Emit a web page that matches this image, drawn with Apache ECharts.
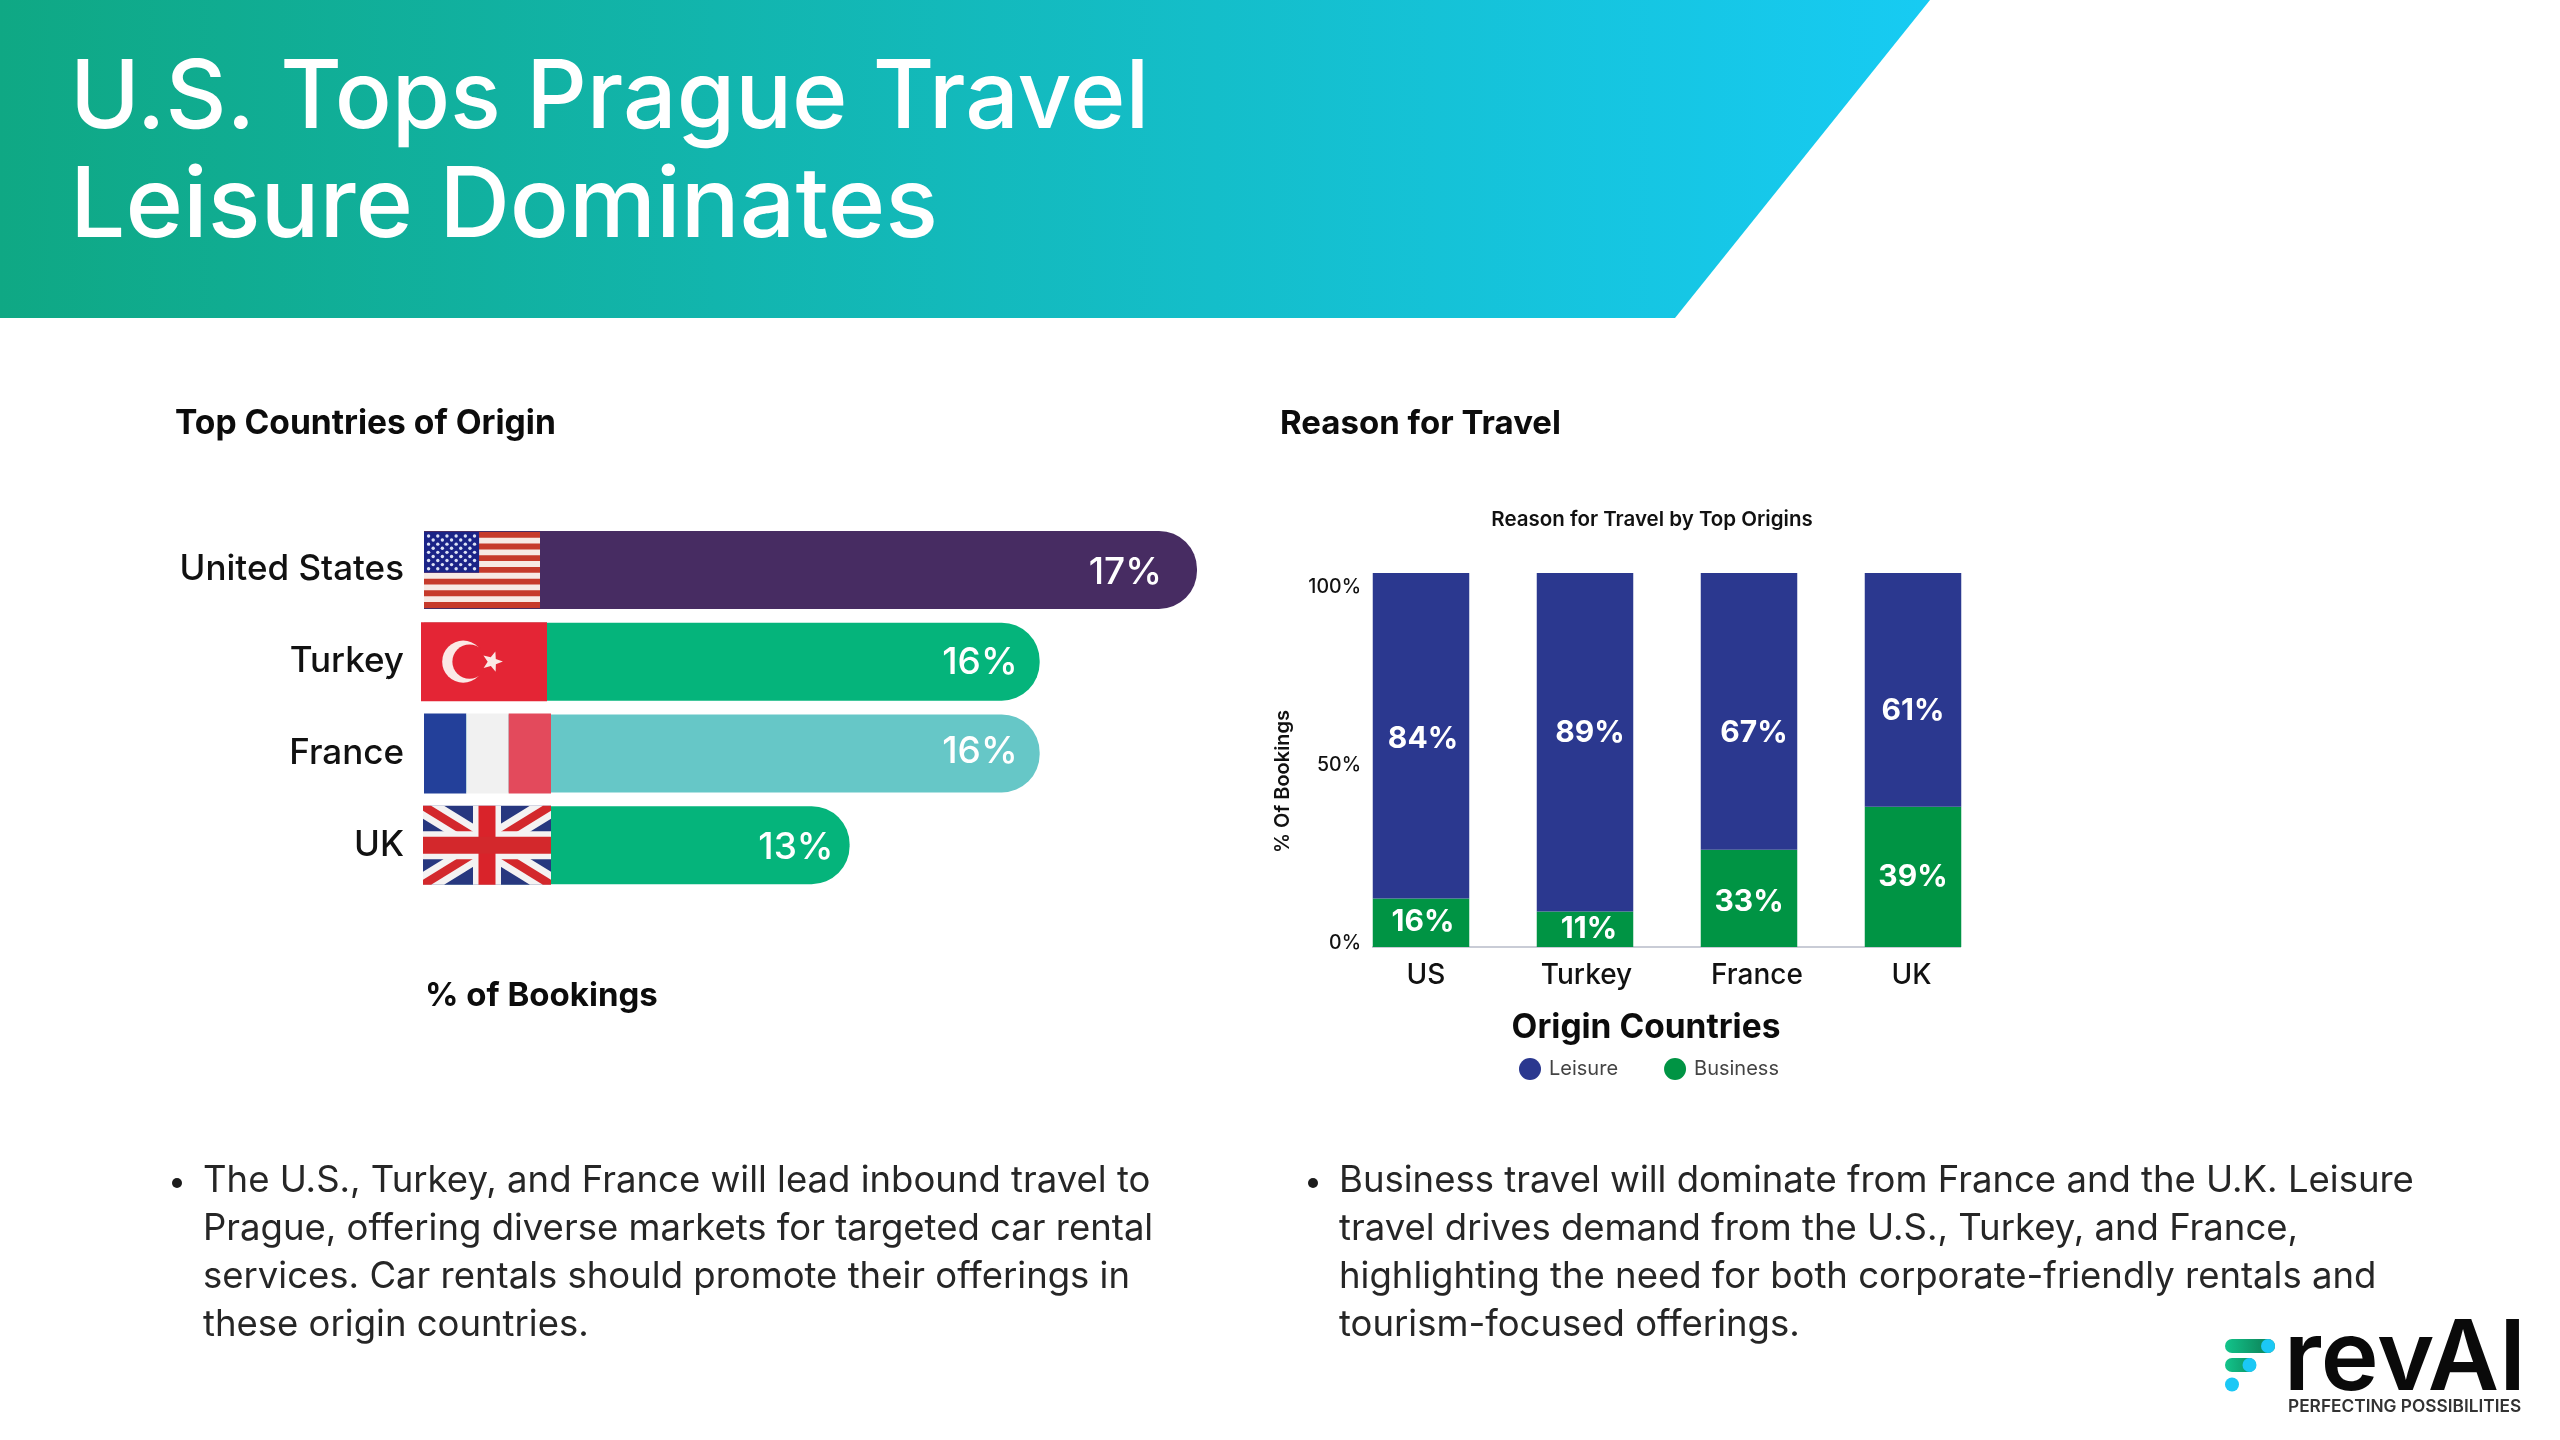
<!DOCTYPE html>
<html>
<head>
<meta charset="utf-8">
<title>U.S. Tops Prague Travel</title>
<script src="https://cdn.jsdelivr.net/npm/echarts@6/dist/echarts.min.js"></script>
<style>
  html, body { margin: 0; padding: 0; background: #fff; }
  #chart { width: 2560px; height: 1440px; }
</style>
</head>
<body>
<div id="chart"></div>
<script>
const originCountries = ["United States", "Turkey", "France", "UK"];
const bookingShareLabels = ["17%", "16%", "16%", "13%"];
// the source bars are not drawn to scale with their printed numbers, so the drawn reach is read separately
const bookingBarReach = [17, 13.54, 13.54, 9.36];
const bookingBarColors = ["#472C62", "#05B47B", "#66C7C7", "#05B47B"];

const reasonCategories = ["US", "Turkey", "France", "UK"];
// same thing for the stacks: drawn height vs printed number
const leisureDrawn = [87, 90.5, 74, 62.5];
const businessDrawn = [13, 9.5, 26, 37.5];
const leisureLabels = ["84%", "89%", "67%", "61%"];
const businessLabels = ["16%", "11%", "33%", "39%"];
const reasonTicks = [0, 50, 100];

const titleLines = ["U.S. Tops Prague Travel", "Leisure Dominates"];
const leftBullet = [
    "The U.S., Turkey, and France will lead inbound travel to",
    "Prague, offering diverse markets for targeted car rental",
    "services. Car rentals should promote their offerings in",
    "these origin countries."
];
const rightBullet = [
    "Business travel will dominate from France and the U.K. Leisure",
    "travel drives demand from the U.S., Turkey, and France,",
    "highlighting the need for both corporate-friendly rentals and",
    "tourism-focused offerings."
];

const FONT = "Inter, 'Noto Sans', sans-serif";
const NAVY = "#2B388F";
const GREEN = "#009444";

function textEl(text, x, y, size, weight, color, extra) {
    return Object.assign({
        type: "text",
        style: { text, x, y, fill: color, font: `${weight} ${size}px ${FONT}`, textVerticalAlign: "middle" }
    }, extra || {});
}

function starPoints(cx, cy, r, rot) {
    const pts = [];
    for (let i = 0; i < 10; i++) {
        const rad = i % 2 ? r * 0.42 : r;
        const a = rot + i * Math.PI / 5;
        pts.push([cx + rad * Math.cos(a), cy + rad * Math.sin(a)]);
    }
    return pts;
}

function usFlag(w, h) {
    const kids = [{ type: "rect", shape: { x: 0, y: 0, width: w, height: h }, style: { fill: "#F7E9E4" } }];
    const sh = h / 13;
    for (let i = 0; i < 13; i += 2) {
        kids.push({ type: "rect", shape: { x: 0, y: i * sh, width: w, height: sh }, style: { fill: "#C63A2B" } });
    }
    const cw = w * 0.475, ch = sh * 7;
    kids.push({ type: "rect", shape: { x: 0, y: 0, width: cw, height: ch }, style: { fill: "#1B2487" } });
    for (let r = 0; r < 9; r++) {
        const n = r % 2 ? 5 : 6;
        for (let c = 0; c < n; c++) {
            const sx = (c + (r % 2 ? 1 : 0.5)) * cw / 6;
            const sy = (r + 1) * ch / 10;
            kids.push({ type: "circle", shape: { cx: sx, cy: sy, r: 1.7 }, style: { fill: "#DDE3F5" } });
        }
    }
    return kids;
}

function turkeyFlag(w, h) {
    const cx = w * 0.335, cy = h * 0.5;
    return [
        { type: "rect", shape: { x: 0, y: 0, width: w, height: h }, style: { fill: "#E42535" } },
        { type: "circle", shape: { cx, cy, r: w * 0.167 }, style: { fill: "#FBE9E6" } },
        { type: "circle", shape: { cx: cx + w * 0.05, cy, r: w * 0.136 }, style: { fill: "#E42535" } },
        { type: "polygon", shape: { points: starPoints(w * 0.565, cy, w * 0.085, -Math.PI / 2 + 0.3) }, style: { fill: "#FBE9E6" } }
    ];
}

function franceFlag(w, h) {
    return [
        { type: "rect", shape: { x: 0, y: 0, width: w / 3, height: h }, style: { fill: "#23409A" } },
        { type: "rect", shape: { x: w / 3, y: 0, width: w / 3, height: h }, style: { fill: "#F1F1F1" } },
        { type: "rect", shape: { x: 2 * w / 3, y: 0, width: w / 3, height: h }, style: { fill: "#E34A5C" } }
    ];
}

function diagonalBand(w, h, t, fill, mirror) {
    const tx = t * w / h;
    let pts = [[0, 0], [tx, 0], [w, h - t], [w, h], [w - tx, h], [0, t]];
    if (mirror) pts = pts.map(p => [w - p[0], p[1]]);
    return { type: "polygon", shape: { points: pts }, style: { fill } };
}

function ukFlag(w, h) {
    return [
        { type: "rect", shape: { x: 0, y: 0, width: w, height: h }, style: { fill: "#27377F" } },
        diagonalBand(w, h, 13, "#F4F2F2", false),
        diagonalBand(w, h, 13, "#F4F2F2", true),
        diagonalBand(w, h, 5, "#D3282C", false),
        diagonalBand(w, h, 5, "#D3282C", true),
        { type: "rect", shape: { x: w / 2 - 14, y: 0, width: 28, height: h }, style: { fill: "#F4F2F2" } },
        { type: "rect", shape: { x: 0, y: h / 2 - 14, width: w, height: 28 }, style: { fill: "#F4F2F2" } },
        { type: "rect", shape: { x: w / 2 - 8.5, y: 0, width: 17, height: h }, style: { fill: "#D9232A" } },
        { type: "rect", shape: { x: 0, y: h / 2 - 8.5, width: w, height: 17 }, style: { fill: "#D3282C" } }
    ];
}

const flagPainters = [usFlag, turkeyFlag, franceFlag, ukFlag];
const flagWidths = [116, 126, 127, 128];
const flagHeights = [76, 79, 80, 79];
const flagShifts = [0, -3, 0, -1];
const leftLabelInset = [35, 22, 22, 16];
const leftLabelNudge = [[0, 3], [0, 1], [0, -2], [0, 3]];
const leisureLabelNudge = [[2, 3], [5, -9], [5, 22], [0, 21]];
const businessLabelNudge = [[2, -1], [4, 0], [0, 4], [0, 0]];

const bulletEls = [];
[[leftBullet, 177, 203], [rightBullet, 1313, 1339]].forEach(([lines, bx, tx]) => {
    bulletEls.push({ type: "circle", shape: { cx: bx, cy: 1183, r: 5 }, style: { fill: "#1c1c1c" } });
    lines.forEach((line, i) => {
        bulletEls.push(textEl(line, tx, 1181 + i * 48, 36.5, 400, "#262626"));
    });
});

const logoEls = [
    { type: "rect", shape: { x: 2225, y: 1339, width: 50, height: 14, r: 7 },
      style: { fill: new echarts.graphic.LinearGradient(0, 0, 1, 0, [{ offset: 0, color: "#12C48B" }, { offset: 0.7, color: "#0E8F62" }, { offset: 1, color: "#0E8F62" }]) } },
    { type: "circle", shape: { cx: 2268, cy: 1346, r: 7 }, style: { fill: "#1BC8F5" } },
    { type: "rect", shape: { x: 2225, y: 1358, width: 31, height: 14, r: 7 },
      style: { fill: new echarts.graphic.LinearGradient(0, 0, 1, 0, [{ offset: 0, color: "#12C48B" }, { offset: 1, color: "#0E8F62" }]) } },
    { type: "circle", shape: { cx: 2249.5, cy: 1365, r: 7 }, style: { fill: "#1BC8F5" } },
    { type: "circle", shape: { cx: 2232, cy: 1384.5, r: 7 }, style: { fill: "#1BC8F5" } },
    { type: "text", style: { text: "revAI", x: 2284, y: 1410, fill: "#0a0a0a", font: `600 98px ${FONT}`, textVerticalAlign: "bottom" } },
    textEl("PERFECTING POSSIBILITIES", 2288, 1407, 17.3, 600, "#333")
];

// the four tick labels are not quite centred under their bars in the source
const xLabelStyle = { fontSize: 28, fontWeight: 500, color: "#111", fontFamily: FONT };
const xLabelRich = {
    c0: Object.assign({ padding: [0, 0, 0, 10] }, xLabelStyle),
    c1: Object.assign({ padding: [0, 0, 0, 3] }, xLabelStyle),
    c2: Object.assign({ padding: [0, 0, 0, 16] }, xLabelStyle),
    c3: Object.assign({ padding: [0, 3, 0, 0] }, xLabelStyle)
};

const chart = echarts.init(document.getElementById("chart"), null, { renderer: "canvas" });

chart.setOption({
    animation: false,
    backgroundColor: "#fff",
    textStyle: { fontFamily: FONT },
    graphic: {
        elements: [
            { type: "polygon", z: 0,
              shape: { points: [[0, 0], [1930, 0], [1675, 318], [0, 318]] },
              style: { fill: new echarts.graphic.LinearGradient(0, 0, 1, 0, [{ offset: 0, color: "#0FA884" }, { offset: 1, color: "#17CBF3" }]) } },
            textEl(titleLines[0], 70, 100, 94.5, 500, "#fff"),
            textEl(titleLines[1], 70, 208, 98, 500, "#fff"),
            textEl("Top Countries of Origin", 175, 424, 33.6, 700, "#0c0c0c"),
            textEl("Reason for Travel", 1280, 424, 33, 700, "#0c0c0c"),
            textEl("% of Bookings", 425, 996, 33, 700, "#0c0c0c"),
            { type: "line", shape: { x1: 1372, y1: 947, x2: 1961, y2: 947 }, style: { stroke: "#C9CCD6", lineWidth: 2 } }
        ].concat(bulletEls, logoEls)
    },
    title: {
        text: "Reason for Travel by Top Origins",
        left: 1647, top: 504, textAlign: "center",
        textStyle: { fontSize: 20.5, fontWeight: 600, color: "#111", fontFamily: FONT }
    },
    legend: {
        data: ["Leisure", "Business"],
        left: 1514, top: 1053,
        icon: "circle",
        itemWidth: 22, itemHeight: 22, itemGap: 46,
        selectedMode: false,
        textStyle: { fontSize: 20, color: "#444", fontFamily: FONT, padding: [0, 0, 0, 3] }
    },
    grid: [
        { left: 424, right: 1363, top: 524, height: 367 },
        { left: 1339, right: 565, top: 573, bottom: 493 }
    ],
    xAxis: [
        { gridIndex: 0, type: "value", min: 0, max: 17, show: false },
        { gridIndex: 1, type: "category", data: reasonCategories,
          axisLine: { show: false }, axisTick: { show: false },
          axisLabel: {
              margin: 15,
              formatter: (value, i) => `{c${i}|${value}}`,
              rich: xLabelRich
          },
          name: "Origin Countries", nameLocation: "middle", nameGap: 64,
          nameTextStyle: { fontSize: 33.5, fontWeight: 700, color: "#0c0c0c", padding: [0, 42, 0, 0], fontFamily: FONT } }
    ],
    yAxis: [
        { gridIndex: 0, type: "category", inverse: true, data: originCountries,
          axisLine: { show: false }, axisTick: { show: false },
          axisLabel: { fontSize: 35, fontWeight: 500, color: "#111", margin: 20, fontFamily: FONT } },
        { gridIndex: 1, type: "value", min: 0, max: 100, show: false },
        // the printed ticks sit a little inside the bars' span, so they get their own scale
        { gridIndex: 1, type: "value", min: -1.1, max: 103.9, position: "left",
          axisLine: { show: false }, axisTick: { show: false }, splitLine: { show: false },
          axisLabel: { customValues: reasonTicks, formatter: "{value}%", fontSize: 19.5, fontWeight: 500, color: "#111", margin: -22, fontFamily: FONT },
          name: "% Of Bookings", nameLocation: "middle", nameGap: 46,
          nameTextStyle: { fontSize: 20, fontWeight: 600, color: "#111", padding: [0, 43, 0, 0], fontFamily: FONT } }
    ],
    series: [
        {
            type: "bar", name: "Share", xAxisIndex: 0, yAxisIndex: 0,
            barWidth: 78,
            data: bookingBarReach.map((value, i) => ({
                value,
                itemStyle: { color: bookingBarColors[i], borderRadius: [0, 38, 38, 0] },
                label: { distance: leftLabelInset[i], offset: leftLabelNudge[i] }
            })),
            label: {
                show: true, position: "insideRight",
                formatter: p => bookingShareLabels[p.dataIndex],
                fontSize: 37, fontWeight: 500, color: "#fff", fontFamily: FONT
            }
        },
        {
            type: "custom", name: "Flags", xAxisIndex: 0, yAxisIndex: 0, z: 5, silent: true,
            data: originCountries.map((c, i) => [0, i]),
            renderItem: (params, api) => {
                const i = params.dataIndex;
                const pos = api.coord([0, api.value(1)]);
                const w = flagWidths[i], h = flagHeights[i];
                return {
                    type: "group",
                    x: pos[0] + flagShifts[i],
                    y: pos[1] - h / 2,
                    children: flagPainters[i](w, h)
                };
            }
        },
        {
            type: "bar", name: "Business", xAxisIndex: 1, yAxisIndex: 1, stack: "reason",
            barWidth: 96.5,
            itemStyle: { color: GREEN },
            data: businessDrawn.map((value, i) => ({ value, label: { offset: businessLabelNudge[i] } })),
            label: {
                show: true, position: "inside",
                formatter: p => businessLabels[p.dataIndex],
                fontSize: 30, fontWeight: 700, color: "#fff", fontFamily: FONT
            }
        },
        {
            type: "bar", name: "Leisure", xAxisIndex: 1, yAxisIndex: 1, stack: "reason",
            barWidth: 96.5,
            itemStyle: { color: NAVY },
            data: leisureDrawn.map((value, i) => ({ value, label: { offset: leisureLabelNudge[i] } })),
            label: {
                show: true, position: "inside",
                formatter: p => leisureLabels[p.dataIndex],
                fontSize: 30, fontWeight: 700, color: "#fff", fontFamily: FONT
            }
        }
    ]
});
</script>
</body>
</html>
